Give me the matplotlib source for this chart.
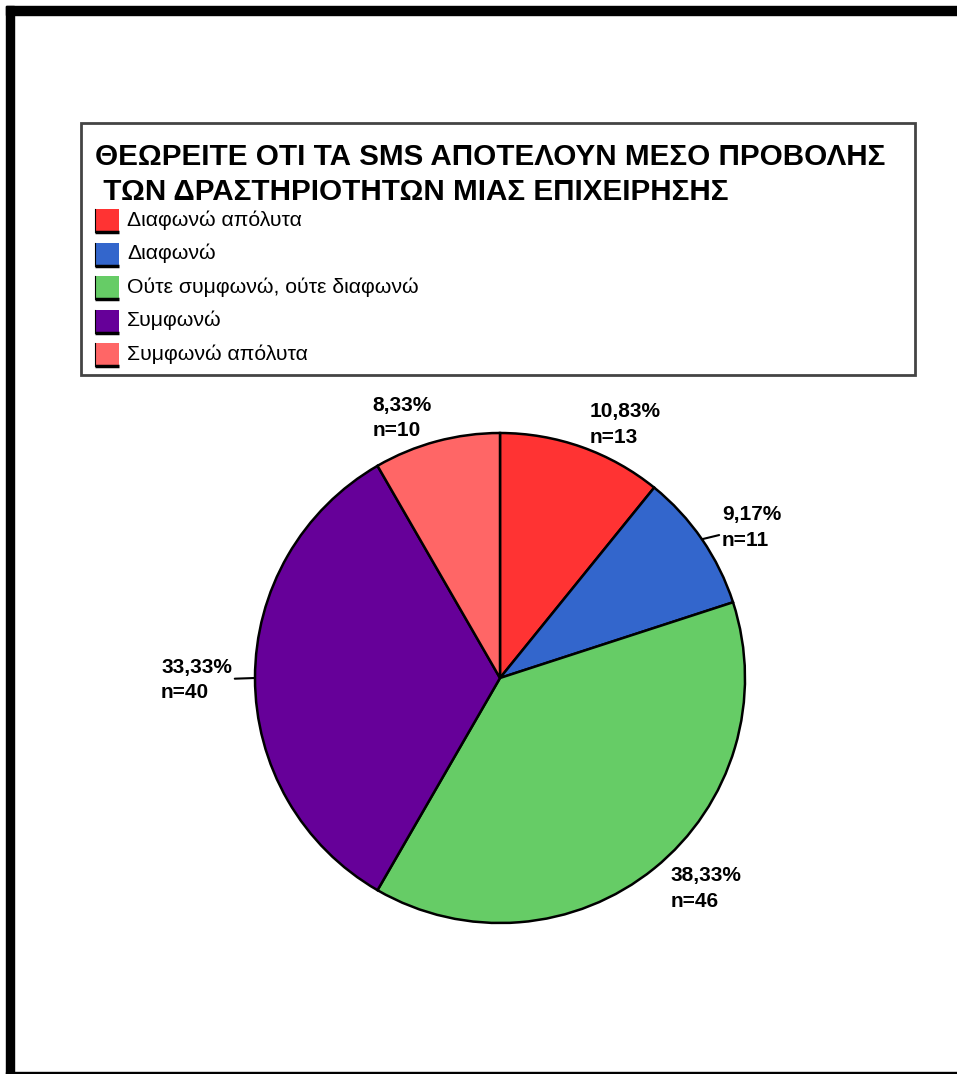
import numpy as np
import matplotlib.pyplot as plt
from matplotlib.patches import Rectangle

plt.rcParams['font.family'] = ['Liberation Sans', 'DejaVu Sans']

# survey answers (counts of respondents)
title_lines = ['ΘΕΩΡΕΙΤΕ ΟΤΙ ΤΑ SMS ΑΠΟΤΕΛΟΥΝ ΜΕΣΟ ΠΡΟΒΟΛΗΣ',
               ' ΤΩΝ ΔΡΑΣΤΗΡΙΟΤΗΤΩΝ ΜΙΑΣ ΕΠΙΧΕΙΡΗΣΗΣ']
answers = ['Διαφωνώ απόλυτα', 'Διαφωνώ', 'Ούτε συμφωνώ, ούτε διαφωνώ',
           'Συμφωνώ', 'Συμφωνώ απόλυτα']
counts = [13, 11, 46, 40, 10]
colors = ['#FF3333', '#3366CC', '#66CC66', '#660099', '#FF6666']

W, H = 957, 1074
fig = plt.figure(figsize=(W / 100, H / 100), dpi=100)
ax = fig.add_axes([0, 0, 1, 1])


def Y(py):
    # pixel row (from top) -> data y (from bottom)
    return H - py


cx, cy, r = 500, Y(678), 245
wedges, _ = ax.pie(counts, colors=colors, startangle=90, counterclock=False,
                   radius=r, center=(cx, cy),
                   wedgeprops=dict(edgecolor='black', linewidth=1.8))

# label placement: offset from wedge edge (px), alignment, leader line
label_layout = [
    dict(off=(8, 0), ha='left', va='bottom', line=False),
    dict(off=(20, 12), ha='left', va='center', line=True),
    dict(off=(16, 2), ha='left', va='top', line=False),
    dict(off=(-23, -2), ha='right', va='center', line=True),
    dict(off=(-5, 1), ha='right', va='bottom', line=False),
]

total = sum(counts)
for w, n, lay in zip(wedges, counts, label_layout):
    ang = np.deg2rad((w.theta1 + w.theta2) / 2)
    ex, ey = cx + r * np.cos(ang), cy + r * np.sin(ang)
    pct = f'{100 * n / total:.2f}%'.replace('.', ',')
    ax.annotate(f'{pct}\nn={n}', xy=(ex, ey), xytext=lay['off'],
                textcoords='offset pixels', ha=lay['ha'], va=lay['va'],
                multialignment='left', fontsize=15, fontweight='bold',
                linespacing=1.45,
                arrowprops=dict(arrowstyle='-', color='black', lw=1.5,
                                shrinkA=0, shrinkB=0) if lay['line'] else None)

# legend box with title
ax.add_patch(Rectangle((81, Y(375)), 834, 252, facecolor='white',
                       edgecolor='#444444', linewidth=2))
ax.text(95, Y(165), title_lines[0], fontsize=21.3, fontweight='bold',
        va='baseline', ha='left')
ax.text(95, Y(200), title_lines[1], fontsize=21.3, fontweight='bold',
        va='baseline', ha='left')
for i, (lab, col) in enumerate(zip(answers, colors)):
    yc = 220 + i * 33.5
    ax.add_patch(Rectangle((95, Y(yc + 12)), 24, 23, facecolor=col,
                           edgecolor='none'))
    ax.plot([95, 119], [Y(yc + 12), Y(yc + 12)], color='black', lw=2.5,
            solid_capstyle='butt')
    ax.plot([95, 95], [Y(yc + 12), Y(yc - 11)], color='black', lw=0.8)
    ax.text(127, Y(yc), lab, fontsize=15.3, va='center', ha='left')

# outer frame
ax.add_patch(Rectangle((6, Y(15)), W - 6, 9, color='black'))
ax.add_patch(Rectangle((6, 0), 8, H - 6, color='black'))
ax.add_patch(Rectangle((6, 0), W - 6, 2, color='black'))

ax.set_xlim(0, W)
ax.set_ylim(0, H)
ax.set_aspect('auto')
ax.axis('off')

fig.savefig('out.png', dpi=100)
